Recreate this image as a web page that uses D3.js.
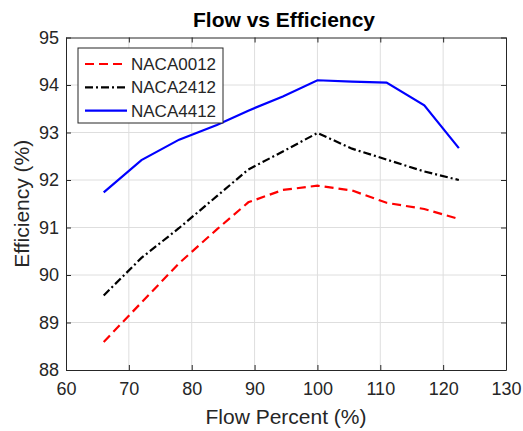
<!DOCTYPE html>
<html>
<head>
<meta charset="utf-8">
<script src="https://cdn.jsdelivr.net/npm/d3@7"></script>
<style>
  html, body { margin: 0; padding: 0; background: #fff; }
  svg { display: block; font-family: "Liberation Sans", Arial, Helvetica, sans-serif; }
</style>
</head>
<body>
<svg id="chart" width="523" height="431"></svg>
<script>
// Flow percent sample points and efficiencies per airfoil
const flowPercent = [66, 72, 78, 84, 89, 94.5, 100, 105.5, 111, 117, 122.5];
const naca0012 = [88.59, 89.42, 90.25, 90.96, 91.53, 91.79, 91.88, 91.78, 91.52, 91.39, 91.18];
const naca2412 = [89.57, 90.36, 90.99, 91.66, 92.22, 92.6, 92.99, 92.66, 92.43, 92.18, 92.0];
const naca4412 = [91.74, 92.42, 92.85, 93.16, 93.46, 93.76, 94.1, 94.07, 94.05, 93.57, 92.67];

const seriesNames = ["NACA0012", "NACA2412", "NACA4412"];
const seriesValues = [naca0012, naca2412, naca4412];
const seriesColors = ["#ff0000", "#000000", "#0000ff"];
const seriesDash = ["9,5", "8,3,2,3", null];

const xTicks = [60, 70, 80, 90, 100, 110, 120, 130];
const yTicks = [88, 89, 90, 91, 92, 93, 94, 95];

const margin = { left: 66, right: 17, top: 37.5, bottom: 61 };
const W = 523, H = 431;
const svg = d3.select("#chart");

const x = d3.scaleLinear().domain([60, 130]).range([margin.left, W - margin.right]);
const y = d3.scaleLinear().domain([88, 95]).range([H - margin.bottom, margin.top]);

const axisColor = "#262626";
const fontFam = "'Liberation Sans', Arial, Helvetica, sans-serif";

// Grid
const grid = svg.append("g");
grid.selectAll("line.gx").data(xTicks.slice(1, -1)).join("line")
  .attr("x1", d => x(d)).attr("x2", d => x(d))
  .attr("y1", y(88)).attr("y2", y(95))
  .attr("stroke", "#dedede").attr("stroke-width", 1);
grid.selectAll("line.gy").data(yTicks.slice(1, -1)).join("line")
  .attr("y1", d => y(d)).attr("y2", d => y(d))
  .attr("x1", x(60)).attr("x2", x(130))
  .attr("stroke", "#dedede").attr("stroke-width", 1);

// Axes with inward ticks on all four sides
const tickLen = 5;
const fmt = d3.format("d");
const xAxis = svg.append("g").attr("transform", `translate(0,${y(88)})`)
  .call(d3.axisBottom(x).tickValues(xTicks).tickFormat(fmt).tickSizeInner(-tickLen).tickSizeOuter(0).tickPadding(12));
const yAxis = svg.append("g").attr("transform", `translate(${x(60)},0)`)
  .call(d3.axisLeft(y).tickValues(yTicks).tickFormat(fmt).tickSizeInner(-tickLen).tickSizeOuter(0).tickPadding(7));
const xTop = svg.append("g").attr("transform", `translate(0,${y(95)})`)
  .call(d3.axisTop(x).tickValues(xTicks).tickSizeInner(-tickLen).tickSizeOuter(0).tickFormat(""));
const yRight = svg.append("g").attr("transform", `translate(${x(130)},0)`)
  .call(d3.axisRight(y).tickValues(yTicks).tickSizeInner(-tickLen).tickSizeOuter(0).tickFormat(""));

[xAxis, yAxis, xTop, yRight].forEach(g => {
  g.select(".domain").attr("stroke", axisColor).attr("stroke-width", 1);
  g.selectAll(".tick line").attr("stroke", axisColor);
  g.selectAll(".tick text").attr("fill", axisColor).style("font-size", "18px")
    .style("font-family", fontFam);
});

// Lines
const line = d3.line().x(d => x(d[0])).y(d => y(d[1]));
seriesValues.forEach((vals, i) => {
  svg.append("path")
    .datum(flowPercent.map((f, j) => [f, vals[j]]))
    .attr("d", line)
    .attr("fill", "none")
    .attr("stroke", seriesColors[i])
    .attr("stroke-width", 2.2)
    .attr("stroke-dasharray", seriesDash[i]);
});

// Title and axis labels
svg.append("text").attr("x", 284).attr("y", 27)
  .attr("text-anchor", "middle").attr("font-weight", "bold")
  .attr("font-size", 21).attr("fill", "#000").text("Flow vs Efficiency");
svg.append("text").attr("x", (x(60) + x(130)) / 2).attr("y", 424)
  .attr("text-anchor", "middle").attr("font-size", 21).attr("fill", axisColor)
  .text("Flow Percent (%)");
svg.append("text").attr("transform", `translate(29,${(y(88) + y(95)) / 2}) rotate(-90)`)
  .attr("text-anchor", "middle").attr("font-size", 21).attr("fill", axisColor)
  .text("Efficiency (%)");

// Legend
const leg = svg.append("g");
leg.append("rect").attr("x", 78).attr("y", 48).attr("width", 145).attr("height", 75)
  .attr("fill", "#fff").attr("stroke", axisColor).attr("stroke-width", 1);
seriesNames.forEach((name, i) => {
  const cy = 64 + i * 23.3;
  leg.append("line").attr("x1", 85).attr("x2", 127).attr("y1", cy).attr("y2", cy)
    .attr("stroke", seriesColors[i]).attr("stroke-width", 2.2)
    .attr("stroke-dasharray", seriesDash[i]);
  leg.append("text").attr("x", 131).attr("y", cy + 6)
    .attr("font-size", 17).attr("fill", axisColor).text(name);
});
</script>
</body>
</html>
